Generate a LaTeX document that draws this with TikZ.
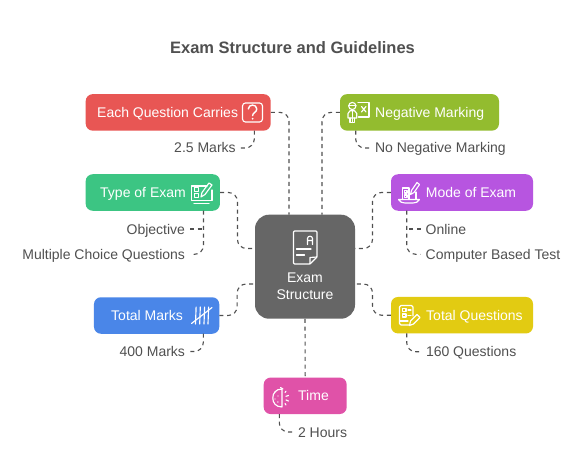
\documentclass[tikz,border=0pt]{standalone}
\usepackage{fontspec}
\setmainfont{Liberation Sans}
\definecolor{inkgray}{HTML}{505050}
\definecolor{examgray}{HTML}{666666}
\definecolor{carriesred}{HTML}{E85654}
\definecolor{typegreen}{HTML}{3CC583}
\definecolor{marksblue}{HTML}{4A86E8}
\definecolor{negativelime}{HTML}{93BC2F}
\definecolor{modepurple}{HTML}{B755E0}
\definecolor{questionsyellow}{HTML}{E2CB12}
\definecolor{timepink}{HTML}{E052A8}
\tikzset{
  topicbox/.style={rounded corners=7pt, minimum height=36.5pt, inner sep=0pt},
  topictext/.style={text=white, anchor=west, inner sep=0pt, text height=11pt, text depth=1pt, font=\fontsize{14}{16}\selectfont},
  leaftext/.style={text=inkgray, inner sep=0pt, outer sep=5pt, text height=11pt, text depth=1pt, font=\fontsize{14}{16}\selectfont},
  link/.style={draw=inkgray, line width=1.1pt, dash pattern=on 4pt off 3.6pt, rounded corners=9pt},
  icon/.style={draw=white, line width=1.15pt, line join=round, line cap=round},
}
\begin{document}
\begin{tikzpicture}[x=1pt,y=-1pt]
  \useasboundingbox[fill=white] (0,0) rectangle (585,454);
  \node[text=inkgray, inner sep=0pt, font=\fontsize{16.5}{18}\selectfont\bfseries] (title) at (292.5,48) {Exam Structure and Guidelines};
  %% centre
  \node[topicbox, rounded corners=14pt, fill=examgray, minimum width=100pt, minimum height=104pt] (exam) at (305,266.7) {};
  \node[text=white, inner sep=0pt, align=center, font=\fontsize{14}{17}\selectfont] (examtxt) at (305,286.5) {Exam\\Structure};
  \coordinate (examtopl) at (289,214.7);
  \coordinate (examtopr) at (322,214.7);
  \coordinate (examleftu) at (255,248.5);
  \coordinate (examleftd) at (255,284);
  \coordinate (examrightu) at (355,248.5);
  \coordinate (examrightd) at (355,284);
  %% topic boxes
  \node[topicbox, fill=carriesred, minimum width=185pt] (carries) at (178.2,112.4) {};
  \node[topictext] (carriestxt) at (97,112.4) {Each Question Carries};
  \node[topicbox, fill=typegreen, minimum width=134.3pt] (type) at (152.8,192.5) {};
  \node[topictext] (typetxt) at (100,192.5) {Type of Exam};
  \node[topicbox, fill=marksblue, minimum width=125.3pt] (marks) at (156.6,315.5) {};
  \node[topictext] (markstxt) at (111,315.5) {Total Marks};
  \node[topicbox, fill=negativelime, minimum width=159pt] (negative) at (419.5,112.4) {};
  \node[topictext] (negativetxt) at (375,112.4) {Negative Marking};
  \node[topicbox, fill=modepurple, minimum width=142pt] (mode) at (462,192.5) {};
  \node[topictext] (modetxt) at (425.7,192.5) {Mode of Exam};
  \node[topicbox, fill=questionsyellow, minimum width=142pt] (questions) at (462,315.2) {};
  \node[topictext] (questionstxt) at (426,315.2) {Total Questions};
  \node[topicbox, fill=timepink, minimum width=83pt] (time) at (305.2,395.8) {};
  \node[topictext] (timetxt) at (298,395.8) {Time};
  %% leaves
  \node[leaftext, anchor=east] (twofive) at (240.7,148) {2.5 Marks};
  \node[leaftext, anchor=east] (objective) at (190,229) {Objective};
  \node[leaftext, anchor=east] (multiple) at (190,254.3) {Multiple Choice Questions};
  \node[leaftext, anchor=east] (fourhundred) at (190,351.5) {400 Marks};
  \node[leaftext, anchor=west] (nonegative) at (370,148) {No Negative Marking};
  \node[leaftext, anchor=west] (online) at (420.7,229) {Online};
  \node[leaftext, anchor=west] (computer) at (420.7,254.3) {Computer Based Test};
  \node[leaftext, anchor=west] (hundredsixty) at (421,351.7) {160 Questions};
  \node[leaftext, anchor=west] (twohours) at (293,432) {2 Hours};
  \coordinate (carriesfoot) at (254.3,130.7);
  \coordinate (typefoot) at (203.5,210.7);
  \coordinate (marksfoot) at (203.3,333.7);
  \coordinate (negativefoot) at (355.7,130.7);
  \coordinate (modefoot) at (406.7,210.7);
  \coordinate (questionsfoot) at (406.7,333.4);
  \coordinate (timefoot) at (279.3,414);
  %% links to the centre
  \draw[link] (carries.east) -| (examtopl);
  \draw[link] (negative.west) -| (examtopr);
  \draw[link] (type.east) -- ++(17.3,0) |- (examleftu);
  \draw[link] (marks.east) -- ++(17.7,0) |- (examleftd);
  \draw[link] (mode.west) -- ++(-18.3,0) |- (examrightu);
  \draw[link] (questions.west) -- ++(-18.3,0) |- (examrightd);
  \draw[link] (exam.south) -- (time.north);
  %% links to the leaves
  \draw[link] (carriesfoot) |- (twofive.east);
  \draw[link] (typefoot) |- (multiple.east);
  \draw[link] (objective.east) -- (objective.east -| typefoot);
  \draw[link] (marksfoot) |- (fourhundred.east);
  \draw[link] (negativefoot) |- (nonegative.west);
  \draw[link] (modefoot) |- (computer.west);
  \draw[link] (online.west) -- (online.west -| modefoot);
  \draw[link] (questionsfoot) |- (hundredsixty.west);
  \draw[link] (timefoot) |- (twohours.west);
  %% question mark icon
  \draw[icon, rounded corners=3pt] (242.5,103) rectangle (262.5,122);
  \draw[icon, line width=1.4pt] (248.3,109) .. controls (248.3,103.8) and (256.8,103.8) .. (256.8,109) .. controls (256.8,112.2) and (252.6,112.6) .. (252.6,115.6);
  \fill[white] (252.6,118.7) circle (1);
  %% screen icon
  \draw[icon] (207,186) -- (191.5,186) -- (191.5,200.5) -- (212,200.5) -- (212,190);
  \draw[icon] (194.5,187.5) rectangle (198.5,191.5) (194.5,193.5) rectangle (198.5,197.5);
  \draw[icon] (201,197) -- (202,192.5) -- (209,183) -- (212,185) -- (205,194.5) -- cycle;
  \draw[icon] (194,203.5) -- (209,203.5);
  %% person and board icon
  \draw[icon] (352.3,106) circle (3.6);
  \draw[icon] (348.7,105.5) -- (356,105.5);
  \draw[icon] (348,118) -- (348,113.5) -- (350,110.8) -- (354.6,110.8) -- (356.8,113.5) -- (356.8,118) -- cycle;
  \draw[icon] (350,118) -- (350,122.5) -- (354.7,122.5) -- (354.7,118) (352.3,111) -- (352.3,122.5);
  \draw[icon] (358,102.5) -- (369,102.5) -- (369,117) -- (358.5,117);
  \draw[icon] (361.5,106.5) -- (366,112) (366,106.5) -- (361.5,112);
  %% device and pen icon
  \draw[icon] (402.5,199.5) -- (402.5,188) -- (409,188) -- (409,199.5);
  \draw[icon] (404.5,190.5) -- (407,190.5) -- (407,193) -- (404.5,193) -- cycle (404.5,195) -- (407,195) -- (407,197.5) -- (404.5,197.5) -- cycle;
  \draw[icon] (410.5,194.5) -- (411.5,190.5) -- (417,182.5) -- (419.5,184.5) -- (414,192.5) -- cycle;
  \draw[icon] (416,192) -- (416,199.5);
  \draw[icon] (398.5,199.5) -- (419.5,199.5) .. controls (418,202) and (416,203) .. (413,203) -- (405,203) .. controls (402,203) and (400,202) .. (398.5,199.5) -- cycle;
  %% document icon
  \draw[icon, rounded corners=1pt] (310,264) -- (293.5,264) -- (293.5,231) -- (317,231) -- (317,257) -- cycle;
  \draw[icon] (317,257) -- (310,257.5) -- (310,264);
  \draw[icon] (307.5,244.5) -- (307.5,238.5) .. controls (307.5,235.5) and (312.5,235.5) .. (312.5,238.5) -- (312.5,244.5) (307.5,240.5) -- (312.5,240.5);
  \draw[icon] (296.5,249) -- (311,249) (296.5,255) -- (304.5,255);
  %% tally icon
  \foreach \x in {195.5,199.7,204,208} {
    \draw[icon] (\x+0.6,307) -- (\x,324); }
  \draw[icon] (191.5,323.5) -- (212,307.5);
  %% clipboard and pen icon
  \draw[icon, rounded corners=1.5pt] (409,325) -- (399.5,325) -- (399.5,305.5) -- (413,305.5) -- (413,316);
  \draw[icon] (402.8,308.5) rectangle (406,311.5) (402.8,314) rectangle (406,317);
  \draw[icon] (408,310) -- (411,310) (408,315.5) -- (411,315.5) (399.5,321) -- (408,321);
  \draw[icon] (409.5,325.5) -- (410.5,321) -- (417,314.5) -- (420,317.5) -- (413.5,324) -- cycle;
  %% half orange timer icon
  \draw[icon] (282,389) -- (282,407) .. controls (275.5,407) and (272.8,402.5) .. (272.8,398) .. controls (272.8,393.5) and (275.5,389) .. (282,389) -- cycle;
  \draw[icon] (280.5,387.5) -- (283,389);
  \foreach \a/\b in {275.5/392, 278/396, 275/399, 277.8/402} {
    \fill[white] (\a,\b) circle (0.7); }
  \draw[icon] (285,392.5) -- (286,391.2) (286,396.3) -- (288.5,395.5) (286,400) -- (288.5,401) (285,403.5) -- (286,405);
\end{tikzpicture}
\end{document}
